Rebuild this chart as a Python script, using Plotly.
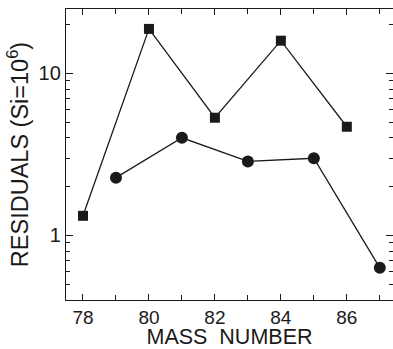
import plotly.graph_objects as go

sq_x = [78, 80, 82, 84, 86]
sq_y = [1.32, 18.8, 5.32, 15.9, 4.68]
ci_x = [79, 81, 83, 85, 87]
ci_y = [2.27, 4.0, 2.86, 2.99, 0.63]
x_ticks = [78, 80, 82, 84, 86]
y_ticks = [1, 10]

INK = "#1a1a1a"
fig = go.Figure()
fig.add_trace(go.Scatter(x=sq_x, y=sq_y, mode="lines+markers",
                         line=dict(color=INK, width=1.3),
                         marker=dict(symbol="square", size=10, color=INK)))
fig.add_trace(go.Scatter(x=ci_x, y=ci_y, mode="lines+markers",
                         line=dict(color=INK, width=1.3),
                         marker=dict(symbol="circle", size=12, color=INK)))

fig.update_layout(
    width=393, height=349,
    margin=dict(l=66, r=0, t=9, b=49, autoexpand=False),
    paper_bgcolor="white", plot_bgcolor="white",
    showlegend=False,
    font=dict(family="Liberation Sans, Arial, sans-serif", size=19, color=INK),
    xaxis=dict(range=[77.485, 87.4], tickvals=x_ticks, ticktext=[str(v) for v in x_ticks],
               ticks="inside", ticklen=6, tickwidth=1, tickcolor=INK,
               minor=dict(ticks="inside", ticklen=5, dtick=1, tickcolor=INK, tick0=77),
               showline=True, linecolor=INK, linewidth=1.3, mirror="ticks",
               showgrid=False, zeroline=False, automargin=False,
               tickfont=dict(size=19),
               title=dict(text="MASS&nbsp;&nbsp;NUMBER", font=dict(size=21.5), standoff=3)),
    yaxis=dict(type="log", range=[-0.399, 1.397], tickvals=y_ticks, ticktext=["1", "10"],
               ticks="inside", ticklen=7, tickwidth=1, tickcolor=INK,
               minor=dict(ticks="inside", ticklen=4,
                          tickvals=[0.4, 0.5, 0.6, 0.7, 0.8, 0.9, 2, 3, 4, 5, 6, 7, 8, 9, 20],
                          tickcolor=INK),
               showline=True, linecolor=INK, linewidth=1.3, mirror="ticks",
               showgrid=False, zeroline=False, automargin=False,
               tickfont=dict(size=20),
               title=dict(text="RESIDUALS (Si=10<sup>6</sup>)", font=dict(size=23.5), standoff=3)),
)
fig.write_html("out.html", config={"displayModeBar": False},
               post_script="document.body.style.margin='0';document.body.style.overflow='hidden';")
